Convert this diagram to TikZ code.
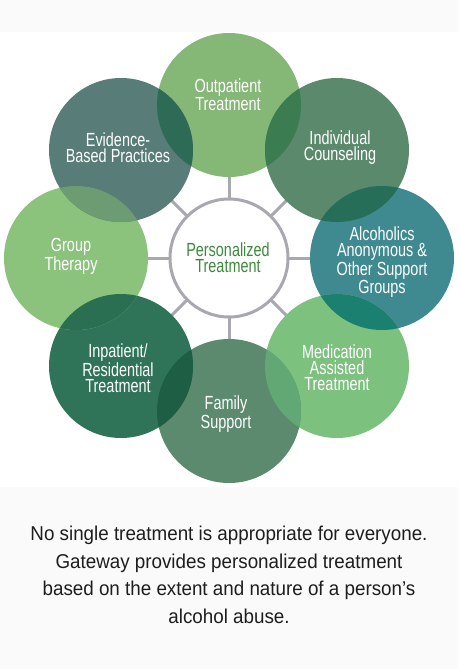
\documentclass[tikz,border=0pt]{standalone}
\usepackage{fontspec}
\setmainfont{Liberation Sans}
\newfontfamily\circfont{Liberation Sans}[FakeStretch=0.76]
\newfontfamily\bodyfont{Liberation Sans}[FakeStretch=0.94]
\definecolor{cO}{HTML}{85B777}
\definecolor{cI}{HTML}{5A8A6B}
\definecolor{cA}{HTML}{3F8A90}
\definecolor{cM}{HTML}{7DC17F}
\definecolor{cF}{HTML}{5B8A6F}
\definecolor{cIn}{HTML}{2F7459}
\definecolor{cG}{HTML}{8BC37D}
\definecolor{cE}{HTML}{587C77}
\definecolor{lEO}{HTML}{2D6B57}
\definecolor{lOI}{HTML}{3B7D50}
\definecolor{lIA}{HTML}{266E58}
\definecolor{lAM}{HTML}{1B8070}
\definecolor{lMF}{HTML}{62A874}
\definecolor{lFIn}{HTML}{1D5E45}
\definecolor{lInG}{HTML}{2B6F53}
\definecolor{lGE}{HTML}{6D9C73}
\definecolor{spoke}{HTML}{A8A8B0}
\definecolor{ctext}{HTML}{3D8A3C}
\definecolor{band}{HTML}{FAFAFA}
\definecolor{bodytext}{HTML}{1E1E1E}
\begin{document}
\begin{tikzpicture}[x=1pt,y=-1pt,
  circlabel/.style={text=white,align=center,inner sep=0pt,font=\circfont\fontsize{19}{16}\selectfont},
  spokeline/.style={draw=spoke,line width=3pt},
  hub/.style={circle,draw=spoke,line width=3pt,fill=white,minimum size=118pt,inner sep=0pt}]
\useasboundingbox (0,0) rectangle (458,669);
\fill[white] (0,0) rectangle (458,669);
\fill[band] (0,0) rectangle (458,32);
\fill[band] (0,487) rectangle (458,669);
% centres
\coordinate (C) at (229,258);
\coordinate (pO) at (229,105);
\coordinate (pI) at (337,150);
\coordinate (pA) at (382,258);
\coordinate (pM) at (337,366);
\coordinate (pF) at (229,411);
\coordinate (pIn) at (121,366);
\coordinate (pG) at (76,258);
\coordinate (pE) at (121,150);
% spokes
\foreach \p in {pO,pI,pA,pM,pF,pIn,pG,pE}{\draw[spokeline] (C) -- (\p);}
% hub
\node[hub] (hub) at (C) {};
% outer circles
\foreach \p/\c in {pO/cO,pI/cI,pA/cA,pM/cM,pF/cF,pIn/cIn,pG/cG,pE/cE}{\fill[\c] (\p) circle (72);}
% lenses
\foreach \a/\b/\c in {pE/pO/lEO,pO/pI/lOI,pI/pA/lIA,pA/pM/lAM,pM/pF/lMF,pF/pIn/lFIn,pIn/pG/lInG,pG/pE/lGE}{
  \begin{scope}\clip (\a) circle (72); \fill[\c] (\b) circle (72);\end{scope}}
% labels
\node[circlabel] (tO) at (228,95) {Outpatient\\Treatment};
\node[circlabel] (tI) at (340,148) {Individual\\Counseling};
\node[circlabel] (tA) at (382,262) {Alcoholics\\Anonymous \&\\Other Support\\Groups};
\node[circlabel] (tM) at (337,368) {Medication\\Assisted\\Treatment};
\node[circlabel] (tF) at (226,414) {Family\\Support};
\node[circlabel] (tIn) at (118,368) {Inpatient/\\Residential\\Treatment};
\node[circlabel] (tG) at (71,256) {Group\\Therapy};
\node[circlabel] (tE) at (118,148) {Evidence-\\Based Practices};
\node[circlabel,text=ctext] (tC) at (228,258) {Personalized\\Treatment};
\node[align=center,text=bodytext,inner sep=0pt,font=\bodyfont\fontsize{20}{27.5}\selectfont] (body) at (229,575) {No single treatment is appropriate for everyone.\\Gateway provides personalized treatment\\based on the extent and nature of a person’s\\alcohol abuse.};
\end{tikzpicture}
\end{document}
